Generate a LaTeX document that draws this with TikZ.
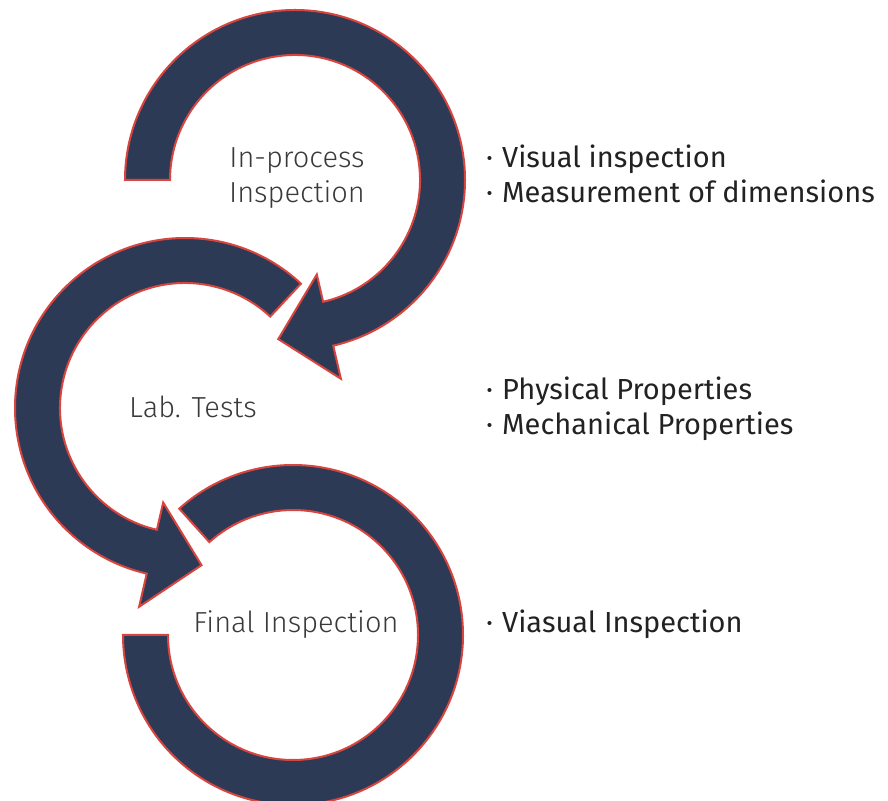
\documentclass[tikz,border=0pt]{standalone}
\usepackage{fontspec}
\setmainfont{Fira Sans}
\newfontfamily\lightfont{Fira Sans Light}
\definecolor{navy}{HTML}{2C3A56}
\definecolor{rim}{HTML}{D8453F}
\definecolor{labelgrey}{HTML}{3A3A3A}
\definecolor{itemgrey}{HTML}{222222}
\begin{document}
\begin{tikzpicture}[x=1pt,y=1pt,
  ring/.style={fill=navy,draw=rim,line width=2pt,line join=miter},
  steplabel/.style={font=\lightfont\fontsize{29}{35}\selectfont,text=labelgrey,align=center,anchor=base,inner sep=0pt},
  item/.style={font=\fontsize{29}{34}\selectfont,text=itemgrey,anchor=base west,inner sep=0pt}]
\useasboundingbox (0,0) rectangle (888,800);
\coordinate (c1) at (295,620);
\coordinate (c2) at (185,392);
\coordinate (c3) at (293,165);
% top ring with arrowhead
\draw[ring] ([shift={(c1)}]180:125) -- ([shift={(c1)}]180:170)
  arc[start angle=180,end angle=-77,radius=170]
  -- ([shift={(c1)}]-77:204) -- ([shift={(c1)}]-96:160) -- ([shift={(c1)}]-77:97)
  -- ([shift={(c1)}]-77:125) arc[start angle=-77,end angle=180,radius=125] -- cycle;
% middle ring with arrowhead
\draw[ring] ([shift={(c2)}]47:125) -- ([shift={(c2)}]47:170)
  arc[start angle=47,end angle=257,radius=170]
  -- ([shift={(c2)}]257:204) -- ([shift={(c2)}]276:158) -- ([shift={(c2)}]257:97)
  -- ([shift={(c2)}]257:125) arc[start angle=257,end angle=47,radius=125] -- cycle;
% bottom ring
\draw[ring] ([shift={(c3)}]132:125) -- ([shift={(c3)}]132:170)
  arc[start angle=132,end angle=-180,radius=170]
  -- ([shift={(c3)}]-180:125) arc[start angle=-180,end angle=132,radius=125] -- cycle;
% labels
\node[steplabel] (inproc) at (297,597) {In-process\\Inspection};
\node[steplabel] (lab) at (193,382) {Lab. Tests};
\node[steplabel] (final) at (296,167) {Final Inspection};
% items
\node[item] (i1) at (486,632) {\makebox[16pt][l]{·}Visual inspection};
\node[item] (i2) at (486,597) {\makebox[16pt][l]{·}Measurement of dimensions};
\node[item] (i3) at (486,400) {\makebox[16pt][l]{·}Physical Properties};
\node[item] (i4) at (486,365) {\makebox[16pt][l]{·}Mechanical Properties};
\node[item] (i5) at (486,167) {\makebox[16pt][l]{·}Viasual Inspection};
\end{tikzpicture}
\end{document}
